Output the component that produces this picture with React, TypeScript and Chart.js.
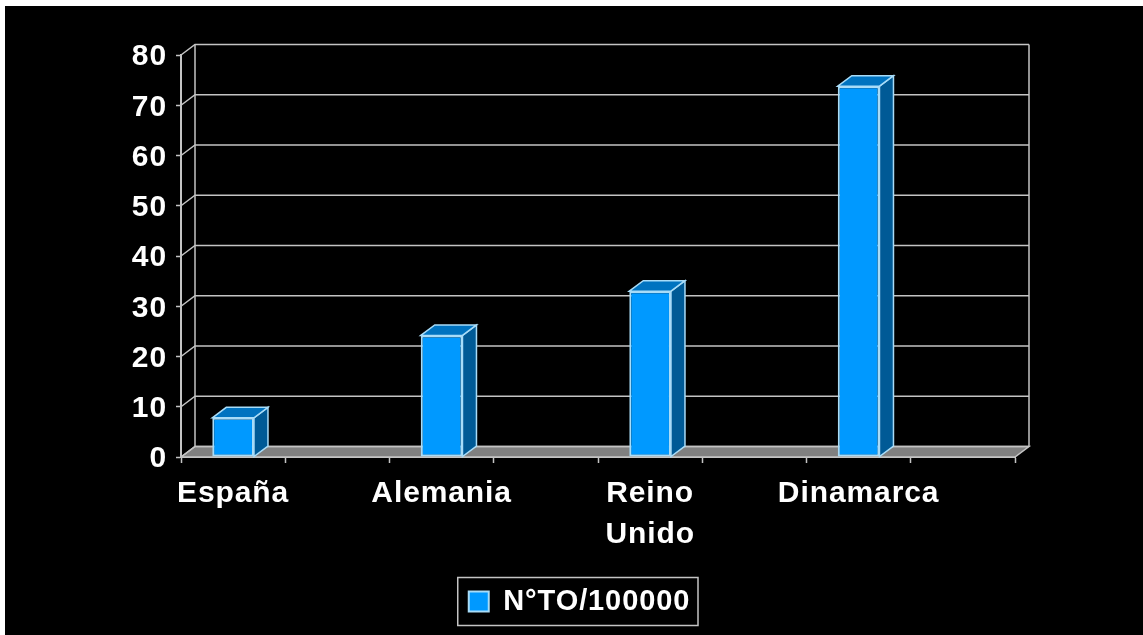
import React, { useEffect, useRef } from "react";
import { Chart, registerables } from "chart.js";

Chart.register(...registerables);

const categories: (string | string[])[] = ["España", "", "Alemania", "", ["Reino", "Unido"], "", "Dinamarca", ""];
const seriesName = "N°TO/100000";
const seriesValues: (number | null)[] = [7.8, null, 24.2, null, 33, null, 73.8, null];
const yTicks = [0, 10, 20, 30, 40, 50, 60, 70, 80];

const DX = 14;
const DY = 10.5;
const LINE = "#c4c4c4";
const EDGE = "#a8dcf8";
const FONT = "'Liberation Sans', Arial, sans-serif";
const SPACING = "0.9px";
const LEGEND_SHIFT = 7;

const scene = {
  id: "scene",
  beforeUpdate(chart: any) {
    (chart.ctx as any).letterSpacing = SPACING;
  },
  afterLayout(chart: any) {
    chart.legend.left += LEGEND_SHIFT;
    chart.legend.right += LEGEND_SHIFT;
  },
  beforeDraw(chart: any) {
    const { ctx, width, height } = chart;
    ctx.save();
    ctx.fillStyle = "#ffffff";
    ctx.fillRect(0, 0, width, height);
    ctx.fillStyle = "#000000";
    ctx.fillRect(5, 6, width - 5, height - 6);
    ctx.restore();
    (ctx as any).letterSpacing = SPACING;
  },
  beforeDatasetsDraw(chart: any) {
    const { ctx, chartArea, scales } = chart;
    const { left, right, bottom } = chartArea;
    const y = scales.y;
    ctx.save();
    // floor
    ctx.fillStyle = "#808080";
    ctx.beginPath();
    ctx.moveTo(left, bottom);
    ctx.lineTo(left + DX, bottom - DY);
    ctx.lineTo(right + DX, bottom - DY);
    ctx.lineTo(right, bottom);
    ctx.closePath();
    ctx.fill();
    ctx.strokeStyle = LINE;
    ctx.lineWidth = 1.5;
    ctx.stroke();
    // walls and grid
    yTicks.forEach((t) => {
      const py = y.getPixelForValue(t);
      ctx.beginPath();
      ctx.moveTo(left, py);
      ctx.lineTo(left + DX, py - DY);
      ctx.lineTo(right + DX, py - DY);
      ctx.stroke();
    });
    ctx.beginPath();
    ctx.moveTo(left + DX, y.getPixelForValue(80) - DY);
    ctx.lineTo(left + DX, bottom - DY);
    ctx.moveTo(right + DX, y.getPixelForValue(80) - DY);
    ctx.lineTo(right + DX, bottom - DY);
    ctx.stroke();
    // bar depth faces
    const meta = chart.getDatasetMeta(0);
    meta.data.forEach((bar: any, i: number) => {
      if (chart.data.datasets[0].data[i] == null) return;
      const hw = bar.width / 2;
      const l = bar.x - hw;
      const r = bar.x + hw;
      const t = bar.y;
      const b = bar.base;
      ctx.strokeStyle = EDGE;
      ctx.lineWidth = 1.5;
      ctx.fillStyle = "#005a96";
      ctx.beginPath();
      ctx.moveTo(r, t);
      ctx.lineTo(r + DX, t - DY);
      ctx.lineTo(r + DX, b - DY);
      ctx.lineTo(r, b);
      ctx.closePath();
      ctx.fill();
      ctx.stroke();
      ctx.fillStyle = "#0073c0";
      ctx.beginPath();
      ctx.moveTo(l, t);
      ctx.lineTo(l + DX, t - DY);
      ctx.lineTo(r + DX, t - DY);
      ctx.lineTo(r, t);
      ctx.closePath();
      ctx.fill();
      ctx.stroke();
    });
    ctx.restore();
  },
  afterDraw(chart: any) {
    const { ctx } = chart;
    const hit = chart.legend?.legendHitBoxes?.[0];
    if (!hit) return;
    ctx.save();
    ctx.strokeStyle = LINE;
    ctx.lineWidth = 1.5;
    const boxLeft = hit.left - 11;
    ctx.strokeRect(boxLeft, chart.legend.top + 0.5, 698 - boxLeft, chart.legend.height - 1);
    ctx.restore();
  },
};

export default function App() {
  const ref = useRef<HTMLCanvasElement>(null);
  useEffect(() => {
    const chart = new Chart(ref.current as HTMLCanvasElement, {
      type: "bar",
      data: {
        labels: categories as any,
        datasets: [
          {
            label: seriesName,
            data: seriesValues,
            backgroundColor: "#0099ff",
            borderColor: EDGE,
            borderWidth: 2,
            borderSkipped: false,
            categoryPercentage: 1,
            barPercentage: 0.4,
          } as any,
        ],
      },
      options: {
        responsive: false,
        animation: false,
        devicePixelRatio: 1,
        layout: { padding: { left: 130, right: 128, top: 55, bottom: 9 } },
        plugins: {
          title: { display: false },
          tooltip: { enabled: false },
          legend: {
            display: true,
            position: "bottom",
            labels: {
              boxWidth: 20,
              boxHeight: 20,
              padding: 10,
              color: "#ffffff",
              font: { family: FONT, size: 29, weight: "bold" },
            },
          },
        },
        scales: {
          x: {
            type: "category",
            afterFit(s: any) {
              s.height = 120;
            },
            border: { display: true, color: LINE, width: 2 },
            grid: { display: true, drawOnChartArea: false, drawTicks: true, tickLength: 6, tickColor: LINE, tickWidth: 1.5 },
            ticks: {
              autoSkip: false,
              maxRotation: 0,
              minRotation: 0,
              padding: 10,
              color: "#ffffff",
              font: { family: FONT, size: 30, weight: "bold", lineHeight: 1.37 },
            },
          },
          y: {
            min: 0,
            max: 80,
            afterFit(s: any) {
              s.width = 51;
            },
            afterBuildTicks(s: any) {
              s.ticks = yTicks.map((value) => ({ value }));
            },
            border: { display: true, color: LINE, width: 2 },
            grid: { display: true, drawOnChartArea: false, drawTicks: true, tickLength: 5, tickColor: LINE, tickWidth: 1.5 },
            ticks: {
              padding: 9,
              labelOffset: 2,
              color: "#ffffff",
              font: { family: FONT, size: 30, weight: "bold" },
            },
          },
        },
      } as any,
      plugins: [scene],
    });
    return () => chart.destroy();
  }, []);
  return (
    <div style={{ position: "absolute", left: 0, top: 0, width: 1143, height: 635, overflow: "hidden" }}>
      <canvas ref={ref} width={1143} height={635} style={{ display: "block" }} />
    </div>
  );
}
